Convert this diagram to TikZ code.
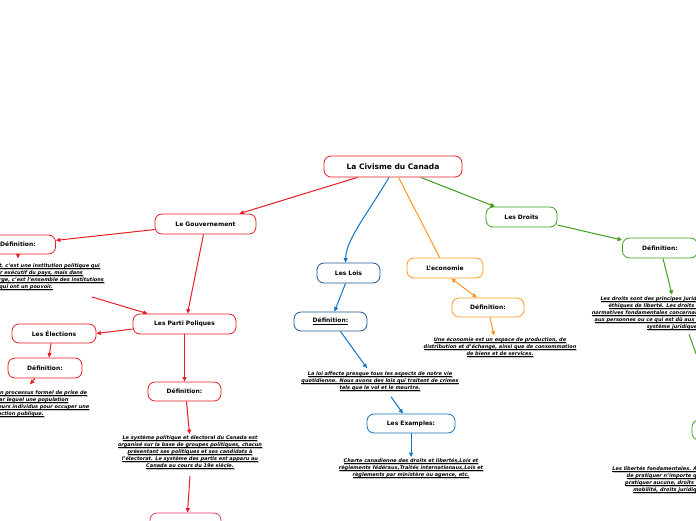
\documentclass[tikz,border=0pt]{standalone}
\usepackage{fontspec}
\setmainfont{DejaVu Sans}[BoldFont={DejaVu Sans Bold},ItalicFont={DejaVu Sans Oblique},BoldItalicFont={DejaVu Sans Bold Oblique}]
\usetikzlibrary{arrows.meta}
\definecolor{cred}{RGB}{232,28,36}
\definecolor{cpink}{RGB}{232,50,110}
\definecolor{cblue}{RGB}{20,115,190}
\definecolor{cnavy}{RGB}{30,85,150}
\definecolor{corange}{RGB}{255,152,30}
\definecolor{cgreen}{RGB}{60,160,25}
\newlength\glw
\newcommand\gl[1]{\settowidth\glw{#1}\makebox[0pt][l]{\hspace{0.8pt}\textcolor{black!22}{\rule[-2.4pt]{\glw}{2pt}}}\makebox[0pt][l]{\rule[-0.9pt]{\glw}{0.3pt}}#1}
\tikzset{
  box/.style={draw, fill=white, rounded corners=7pt, line width=0.8pt, font=\fontsize{6}{7}\selectfont\bfseries, inner sep=1pt},
  txt/.style={font=\fontsize{5}{7}\selectfont\bfseries\itshape, align=center, inner sep=1.5pt},
  arr/.style={line width=1pt, -{Triangle[length=4.5pt,width=4pt]}},
  lnk/.style={line width=1pt},
}
\begin{document}
\begin{tikzpicture}[x=1pt,y=-1pt]
\useasboundingbox (0,0) rectangle (696,520);
\clip (0,0) rectangle (696,520);
% nodes
\node[box, draw=cred, minimum width=138pt, minimum height=21pt, font=\fontsize{7.5}{9}\selectfont\bfseries] (root) at (393,166.5) {La Civisme du Canada};
\node[box, draw=cred, minimum width=101pt, minimum height=20pt] (gov) at (205.5,224) {Le Gouvernement};
\node[box, draw=cred, minimum width=75pt, minimum height=19pt] (govdef) at (18,244.5) {Définition:};
\node[txt] (govtxt) at (26,277) {\gl{Le gouvernement, c'est une institution politique qui}\\\gl{a le pouvoir exécutif du pays, mais dans}\\\gl{en un sens plus large, c'est l'ensemble des institutions}\\\gl{qui ont un pouvoir.}};
\node[box, draw=cred, minimum width=103pt, minimum height=20pt] (parti) at (184.5,324) {Les Parti Poliques};
\node[box, draw=cred, minimum width=84pt, minimum height=19pt] (elec) at (54,333.5) {Les Élections};
\node[box, draw=cred, minimum width=74pt, minimum height=20pt] (elecdef) at (45,368) {Définition:};
\node[txt] (electxt) at (18,404) {\gl{Une élection est un processus formel de prise de}\\\gl{décisions par lequel une population}\\\gl{choisit un ou plusieurs individus pour occuper une}\\\gl{fonction publique.}};
\node[box, draw=cred, minimum width=73pt, minimum height=19pt] (partidef) at (184.5,391.5) {Définition:};
\node[txt] (partitxt) at (190,453) {\gl{Le système politique et électoral du Canada est}\\\gl{organisé sur la base de groupes politiques, chacun}\\\gl{présentant ses politiques et ses candidats à}\\\gl{l'électorat. Le système des partis est apparu au}\\\gl{Canada au cours du 19e siècle.}};
\node[box, draw=cpink, minimum width=71pt, minimum height=20pt] (partinext) at (185.5,523) {};
\node[box, draw=cnavy, minimum width=63pt, minimum height=20pt] (lois) at (348.5,273) {Les Lois};
\node[box, draw=cnavy, minimum width=73pt, minimum height=19pt] (loisdef) at (330.5,321.5) {\underline{Définition:}};
\node[txt] (loistxt) at (380,382) {\gl{La loi affecte presque tous les aspects de notre vie}\\\gl{quotidienne. Nous avons des lois qui traitent de crimes}\\\gl{tels que le vol et le meurtre.}};
\node[box, draw=cblue, minimum width=88pt, minimum height=19pt] (examples) at (411,423.5) {Les Examples:};
\node[txt] (extxt) at (411,469) {\gl{Charte canadienne des droits et libertés,Lois et}\\\gl{règlements fédéraux,Traités internationaux,Lois et}\\\gl{règlements par ministère ou agence, etc.}};
\node[box, draw=corange, minimum width=76pt, minimum height=20pt] (eco) at (445,268) {L'economie};
\node[box, draw=corange, minimum width=72pt, minimum height=19pt] (ecodef) at (488,307.5) {Définition:};
\node[txt] (ecotxt) at (500,347.5) {\gl{Une économie est un espace de production, de}\\\gl{distribution et d'échange, ainsi que de consommation}\\\gl{de biens et de services.}};
\node[box, draw=cgreen, minimum width=71pt, minimum height=20pt] (droits) at (521.5,217) {Les Droits};
\node[box, draw=cgreen, minimum width=75pt, minimum height=20pt] (droitsdef) at (660,248) {Définition:};
\node[txt] (droitstxt) at (673,313.5) {\gl{Les droits sont des principes juridiques, sociaux ou}\\\gl{éthiques de liberté. Les droits sont les règles}\\\gl{normatives fondamentales concernant ce qui est accordé}\\\gl{aux personnes ou ce qui est dû aux personnes selon un}\\\gl{système juridique.}};
\node[box, draw=cgreen, minimum width=76pt, minimum height=20pt] (rnode) at (730,430) {Les Libertés};
\node[txt] (rtxt) at (696,480) {\gl{Les libertés fondamentales. Au Canada, chacun a la liberté}\\\gl{de pratiquer n'importe quelle religion ou de n'en}\\\gl{pratiquer aucune, droits démocratiques, droits de}\\\gl{mobilité, droits juridiques, droits à l'égalité.}};
% connectors
\draw[arr, cred] (root) -- (gov);
\draw[arr, cblue] ([xshift=-4pt]root.south) .. controls (366,216) and (346,240) .. ([xshift=-3pt]lois.north);
\draw[lnk, corange] (root) -- (eco);
\draw[arr, cgreen] (root) -- (droits);
\draw[arr, cred] (gov) -- (govdef);
\draw[arr, cred] (govdef.south) -- ([yshift=-4pt]govdef.south);
\coordinate (gt) at (92,297);
\draw[arr, cred] (gt) -- ([xshift=15pt]parti.north west);
\draw[arr, cred] ([xshift=-2pt]gov.south) -- ([xshift=3pt]parti.north);
\draw[arr, cred] ([yshift=-5pt]parti.west) -- (elec.east);
\draw[arr, cred] ([xshift=-3pt]elec.south) -- ([xshift=4pt]elecdef.north);
\draw[arr, cred] ([xshift=-10pt]elecdef.south) -- ([xshift=-15pt,yshift=-6pt]elecdef.south);
\draw[arr, cred] (parti.south) -- (partidef.north);
\draw[arr, cred] ([xshift=2pt]partidef.south) -- ([xshift=5pt]partidef.south |- partitxt.north);
\draw[arr, cred] ([yshift=-4pt]partitxt.south) -- ([xshift=2pt]partinext.north);
\draw[arr, cblue] ([xshift=-3pt]lois.south) -- ([xshift=4pt]loisdef.north);
\draw[arr, cblue] ([xshift=10pt]loisdef.south) -- ([xshift=-13pt,yshift=2pt]loistxt.north);
\draw[arr, cblue] ([xshift=11pt,yshift=-3pt]loistxt.south) -- ([xshift=-8pt]examples.north);
\draw[arr, cblue] (examples.south) -- (extxt.north);
\draw[line width=1pt, corange, {Triangle[length=4.5pt,width=4pt]}-{Triangle[length=4.5pt,width=4pt]}] ([xshift=6pt]eco.south) -- ([xshift=-11pt]ecodef.north);
\draw[arr, corange] ([xshift=2pt]ecodef.south) -- ([xshift=-6pt]ecotxt.north);
\draw[arr, cgreen] ([yshift=-8pt]droits.east) -- ([yshift=8pt]droitsdef.west);
\draw[arr, cgreen] ([xshift=3pt]droitsdef.south) -- ([xshift=-1pt]droitstxt.north);
\draw[arr, cgreen] ([xshift=16pt,yshift=-2pt]droitstxt.south) -- ([xshift=-10pt]rnode.north);
\end{tikzpicture}
\end{document}
